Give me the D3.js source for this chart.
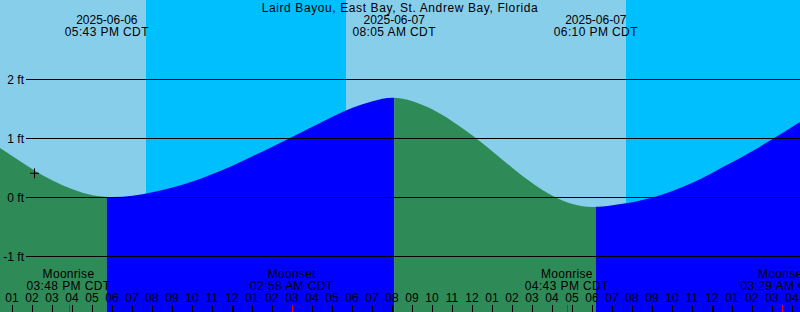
<!DOCTYPE html>
<html><head><meta charset="utf-8">
<script src="https://cdn.jsdelivr.net/npm/d3@7"></script>
<style>html,body{margin:0;padding:0;background:#fff;}svg{display:block;}</style>
</head><body>
<svg id="chart" width="800" height="312"></svg>
<script>
const title = "Laird Bayou, East Bay, St. Andrew Bay, Florida";

// hourly tide heights (ft)
const tideTimes = [
  "2025-06-06 12:00","2025-06-06 13:00","2025-06-06 14:00","2025-06-06 15:00","2025-06-06 16:00",
  "2025-06-06 17:00","2025-06-06 18:00","2025-06-06 19:00","2025-06-06 20:00","2025-06-06 21:00",
  "2025-06-06 22:00","2025-06-06 23:00","2025-06-07 00:00","2025-06-07 01:00","2025-06-07 02:00",
  "2025-06-07 03:00","2025-06-07 04:00","2025-06-07 05:00","2025-06-07 06:00","2025-06-07 07:00",
  "2025-06-07 08:00","2025-06-07 09:00","2025-06-07 10:00","2025-06-07 11:00","2025-06-07 12:00",
  "2025-06-07 13:00","2025-06-07 14:00","2025-06-07 15:00","2025-06-07 16:00","2025-06-07 17:00",
  "2025-06-07 18:00","2025-06-07 19:00","2025-06-07 20:00","2025-06-07 21:00","2025-06-07 22:00",
  "2025-06-07 23:00","2025-06-08 00:00","2025-06-08 01:00","2025-06-08 02:00","2025-06-08 03:00",
  "2025-06-08 04:00","2025-06-08 05:00"];
const tideHeights = [
  0.92, 0.70, 0.48, 0.29, 0.14,
  0.04, 0.01, 0.03, 0.09, 0.17,
  0.27, 0.40, 0.54, 0.70, 0.86,
  1.03, 1.20, 1.37, 1.52, 1.63,
  1.69, 1.63, 1.49, 1.29, 1.05,
  0.78, 0.50, 0.24, 0.03, -0.11,
  -0.16, -0.13, -0.08, 0.00, 0.11,
  0.25, 0.42, 0.60, 0.79, 0.99,
  1.20, 1.41];

// high / low tides
const extremeTimes = ["2025-06-06 17:43","2025-06-07 08:05","2025-06-07 18:10"];
const extremeDates = ["2025-06-06","2025-06-07","2025-06-07"];
const extremeClock = ["05:43 PM CDT","08:05 AM CDT","06:10 PM CDT"];

// sun
const sunsetTimes = ["2025-06-06 19:40","2025-06-07 19:40"];
const sunriseTimes = ["2025-06-07 05:40"];

// moon
const moonTimes = ["2025-06-06 15:48","2025-06-07 02:58","2025-06-07 16:43","2025-06-08 03:29"];
const moonEvents = ["Moonrise","Moonset","Moonrise","Moonset"];
const moonClock = ["03:48 PM CDT","02:58 AM CDT","04:43 PM CDT","03:29 AM CDT"];

// y grid
const gridLevels = [2, 1, 0, -1];
const gridLabels = ["2 ft", "1 ft", "0 ft", "-1 ft"];

// current-time marker
const markTime = "2025-06-06 14:06";
const markHeight = 0.41;

const W = 800, H = 312;
const C = {day:"#87CEEB", night:"#00BFFF", ebb:"#2E8B57", flood:"#0000FF", text:"#000"};
const FONT = "'Liberation Sans', Arial, sans-serif";
const parse = d3.utcParse("%Y-%m-%d %H:%M");

const x = d3.scaleUtc()
  .domain([parse("2025-06-06 13:00"), parse("2025-06-07 13:00")])
  .range([12.5, 492.5]);
const y = d3.scaleLinear().domain([0, 1]).range([197.5, 138.5]);
const t0 = x.invert(0), t1 = x.invert(W);

const svg = d3.select("#chart");
svg.append("rect").attr("width", W).attr("height", H).attr("fill", C.day);

// night bands
const nights = [[parse(sunsetTimes[0]), parse(sunriseTimes[0])], [parse(sunsetTimes[1]), t1]];
svg.selectAll("rect.night").data(nights).join("rect").attr("class","night")
  .attr("x", d => x(d[0])).attr("width", d => x(d[1]) - x(d[0]))
  .attr("y", 0).attr("height", H).attr("fill", C.night).attr("shape-rendering","crispEdges");

// tide area as clip
const tide = tideTimes.map((t, i) => ({t: parse(t), h: tideHeights[i]}));
const area = d3.area().x(d => x(d.t)).y0(H + 5).y1(d => y(d.h)).curve(d3.curveNatural);
svg.append("clipPath").attr("id","tideClip").append("path").attr("d", area(tide));

const ext = extremeTimes.map(parse);
const segs = [
  [x(t0) - 20, x(ext[0]), C.ebb],
  [x(ext[0]), x(ext[1]), C.flood],
  [x(ext[1]), x(ext[2]), C.ebb],
  [x(ext[2]), W + 20, C.flood]];
const tg = svg.append("g").attr("clip-path","url(#tideClip)");
tg.selectAll("rect").data(segs).join("rect")
  .attr("x", d => d[0]).attr("width", d => d[1] - d[0])
  .attr("y", 0).attr("height", H).attr("fill", d => d[2]);

// grid lines
svg.selectAll("line.grid").data(gridLevels).join("line").attr("class","grid")
  .attr("x1", 26).attr("x2", W).attr("y1", d => y(d)).attr("y2", d => y(d))
  .attr("stroke", "#000").attr("stroke-width", 1);
svg.selectAll("text.glab").data(gridLevels).join("text").attr("class","glab")
  .attr("x", 24).attr("y", d => y(d) + 4).attr("text-anchor","end")
  .attr("font-family", FONT).attr("font-size", 12).attr("fill", C.text)
  .text((d, i) => gridLabels[i]);

// marker
const mx = x(parse(markTime)), my = y(markHeight);
svg.append("path")
  .attr("d", `M${mx - 4.5},${my}H${mx + 4.5}M${mx},${my - 5}V${my + 5}`)
  .attr("stroke", "#000").attr("stroke-width", 1).attr("fill","none");

// title
svg.append("text").attr("x", W / 2).attr("y", 12).attr("text-anchor","middle")
  .attr("font-family", FONT).attr("font-size", 12).attr("letter-spacing", 0.6)
  .attr("fill", C.text).text(title);

// extreme labels
const eg = svg.selectAll("g.ext").data(ext).join("g").attr("class","ext");
eg.append("text").attr("x", d => x(d)).attr("y", 24).attr("text-anchor","middle")
  .attr("font-family", FONT).attr("font-size", 12).attr("fill", C.text)
  .text((d, i) => extremeDates[i]);
eg.append("text").attr("x", d => x(d)).attr("y", 36).attr("text-anchor","middle")
  .attr("font-family", FONT).attr("font-size", 12).attr("letter-spacing", 0.4).attr("fill", C.text)
  .text((d, i) => extremeClock[i]);

// moon labels
const moon = moonTimes.map(parse);
const mg = svg.selectAll("g.moon").data(moon).join("g").attr("class","moon");
mg.append("text").attr("x", d => x(d)).attr("y", 278).attr("text-anchor","middle")
  .attr("font-family", FONT).attr("font-size", 12).attr("letter-spacing", 0.3).attr("fill", C.text)
  .text((d, i) => moonEvents[i]);
mg.append("text").attr("x", d => x(d)).attr("y", 290).attr("text-anchor","middle")
  .attr("font-family", FONT).attr("font-size", 12).attr("letter-spacing", 0.4).attr("fill", C.text)
  .text((d, i) => moonClock[i]);

// hour axis
const hours = d3.utcHour.range(d3.utcHour.ceil(t0), t1);
const fmtH = d3.utcFormat("%I");
svg.selectAll("text.hour").data(hours).join("text").attr("class","hour")
  .attr("x", d => x(d) - 0.5).attr("y", 302).attr("text-anchor","middle")
  .attr("font-family", FONT).attr("font-size", 12).attr("fill", C.text)
  .text(d => fmtH(d));
svg.selectAll("rect.tick").data(hours).join("rect").attr("class","tick")
  .attr("x", d => Math.floor(x(d)))
  .attr("width", d => d.getUTCHours() === 0 ? 2 : 1)
  .attr("y", 305).attr("height", 7).attr("fill", "#000");
svg.selectAll("rect.mtick").data(moon).join("rect").attr("class","mtick")
  .attr("x", d => Math.round(x(d))).attr("width", 1)
  .attr("y", 305).attr("height", 7).attr("fill", "#FF0000");
</script>
</body></html>
